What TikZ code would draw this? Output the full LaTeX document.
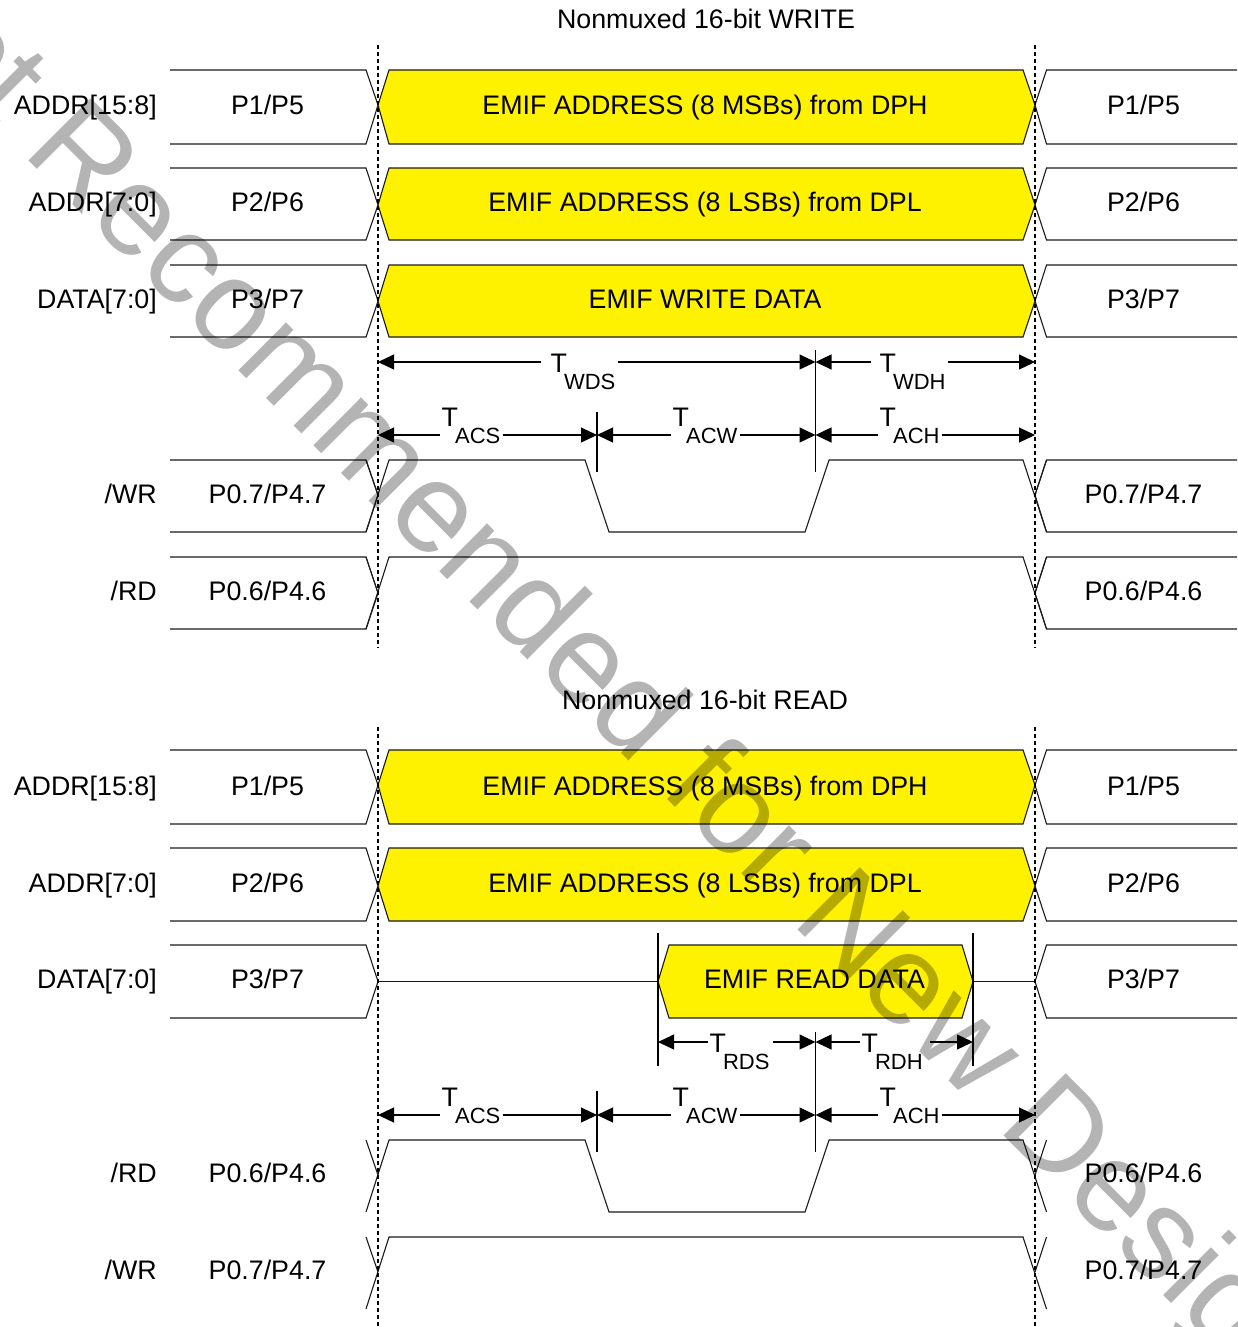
\documentclass[tikz,border=0pt]{standalone}
\usepackage{fontspec}
\setmainfont{Liberation Sans}
\usetikzlibrary{arrows.meta,calc}
\definecolor{wmgray}{HTML}{B4B4B4}
\definecolor{inkc}{HTML}{1A1A1A}
\newcommand{\mainsize}{\fontsize{26.8}{30}\selectfont}
\newcommand{\subsize}{\fontsize{22}{24}\selectfont}
\tikzset{
  x=1pt,y=-1pt,
  wave/.style={draw=inkc,line width=1.1pt,line join=miter},
  busfill/.style={wave,fill=yellow},
  guide/.style={draw=black,line width=1.1pt,dash pattern=on 4pt off 3pt},
  tick/.style={draw=black,line width=1.1pt},
  dimarrow/.style={draw=black,line width=1.1pt,-{Triangle[length=16pt,width=15pt]}},
  siglabel/.style={anchor=base east,inner sep=0pt,font=\mainsize},
  vallabel/.style={anchor=base,inner sep=0pt,font=\mainsize},
  tlabel/.style={anchor=base west,inner sep=0pt,font=\mainsize},
}
% left and right stubs of a row: top, bottom, crossing y
\newcommand{\stubs}[3]{%
  \draw[wave] (170,#1) -- (366,#1) -- (378,#3) -- (366,#2) -- (170,#2);
  \draw[wave] (1237,#1) -- (1046.5,#1) -- (1035,#3) -- (1046.5,#2) -- (1237,#2);
}
% yellow bus: top, bottom, crossing y
\newcommand{\bus}[3]{%
  \draw[busfill] (378,#3) -- (389,#1) -- (1023,#1) -- (1035,#3) -- (1023,#2) -- (389,#2) -- cycle;
}
% strobe pulse, low between the edges
\newcommand{\pulse}[3]{%
  \draw[wave] (366,#2) -- (389,#1) -- (585,#1) -- (609,#2) -- (805,#2) -- (829,#1) -- (1023,#1) -- (1046.5,#2);
  \draw[wave] (366,#1) -- (378,#3);
  \draw[wave] (1046.5,#1) -- (1035,#3);
}
% strobe that stays high
\newcommand{\high}[3]{%
  \draw[wave] (366,#2) -- (389,#1) -- (1023,#1) -- (1046.5,#2);
  \draw[wave] (366,#1) -- (378,#3);
  \draw[wave] (1046.5,#1) -- (1035,#3);
}
% name, x, baseline, subscript, line y, left target, right target, left gap, right gap
\newcommand{\tlab}[9]{%
  \node[tlabel] (#1) at (#2,#3) {T\kern-3pt\raisebox{-17pt}{\subsize #4}};
  \coordinate (#1y) at (0,#5);
  \path ([xshift=-#8pt]#1.base west) coordinate (#1l) ([xshift=#9pt]#1.base east) coordinate (#1r);
  \draw[dimarrow] (#1l|-#1y) -- (#6|-#1y);
  \draw[dimarrow] (#1r|-#1y) -- (#7|-#1y);
}
\begin{document}
\begin{tikzpicture}
\useasboundingbox (0,0) rectangle (1237,1327);
\coordinate (d1) at (378,0);
\coordinate (d2) at (1035,0);
\coordinate (m1) at (597,0);
\coordinate (m2) at (815.5,0);
\coordinate (r1) at (658,0);
\coordinate (r2) at (973,0);

% ---------- WRITE ----------
\node[vallabel] (title1) at (706,29) {Nonmuxed 16-bit WRITE};
\stubs{70}{144}{105}
\bus{70}{144}{105}
\stubs{168}{240}{205}
\bus{168}{240}{205}
\stubs{265}{337}{301}
\bus{265}{337}{301}
\stubs{460}{532}{495}
\stubs{557}{629}{593}
\pulse{460}{532}{495}
\high{557}{629}{593}
\draw[guide] (378,45) -- (378,648);
\draw[guide] (1035,45) -- (1035,648);

\node[siglabel] (wa1) at (157,114) {ADDR[15:8]};
\node[vallabel] (wa1l) at (267.5,114) {P1/P5};
\node[vallabel] (wa1c) at (705,114) {EMIF ADDRESS (8 MSBs) from DPH};
\node[vallabel] (wa1r) at (1143.5,114) {P1/P5};
\node[siglabel] (wa2) at (157,211) {ADDR[7:0]};
\node[vallabel] (wa2l) at (267.5,211) {P2/P6};
\node[vallabel] (wa2c) at (705,211) {EMIF ADDRESS (8 LSBs) from DPL};
\node[vallabel] (wa2r) at (1143.5,211) {P2/P6};
\node[siglabel] (wd) at (157,308) {DATA[7:0]};
\node[vallabel] (wdl) at (267.5,308) {P3/P7};
\node[vallabel] (wdc) at (705,308) {EMIF WRITE DATA};
\node[vallabel] (wdr) at (1143.5,308) {P3/P7};
\node[siglabel] (wwr) at (157,503) {/WR};
\node[vallabel] (wwrl) at (267.5,503) {P0.7/P4.7};
\node[vallabel] (wwrr) at (1143.5,503) {P0.7/P4.7};
\node[siglabel] (wrd) at (157,600) {/RD};
\node[vallabel] (wrdl) at (267.5,600) {P0.6/P4.6};
\node[vallabel] (wrdr) at (1143.5,600) {P0.6/P4.6};

\draw[tick] (597,412) -- (597,472);
\draw[tick] (815.5,350) -- (815.5,472);
\tlab{twds}{550.5}{372}{WDS}{362}{d1}{m2}{10}{2}
\tlab{twdh}{879.5}{372}{WDH}{362}{m2}{d2}{9}{2}
\tlab{tacsa}{441.5}{426}{ACS}{435}{d1}{m1}{2}{2}
\tlab{tacwa}{672.5}{426}{ACW}{435}{m1}{m2}{2}{2}
\tlab{tacha}{879.5}{426}{ACH}{435}{m2}{d2}{2}{2}

% ---------- READ ----------
\node[vallabel] (title2) at (705,709) {Nonmuxed 16-bit READ};
\stubs{750}{824}{785}
\bus{750}{824}{785}
\stubs{848}{921}{886}
\bus{848}{921}{886}
\stubs{945}{1018}{981.5}
\draw[wave] (378,981.5) -- (658,981.5);
\draw[wave] (973,981.5) -- (1035,981.5);
\draw[busfill] (658,981.5) -- (669,945) -- (962,945) -- (973,981.5) -- (962,1018) -- (669,1018) -- cycle;
\pulse{1140}{1212}{1175}
\high{1237}{1309}{1272}
\draw[guide] (378,727) -- (378,1327);
\draw[guide] (1035,727) -- (1035,1327);

\node[siglabel] (ra1) at (157,795) {ADDR[15:8]};
\node[vallabel] (ra1l) at (267.5,795) {P1/P5};
\node[vallabel] (ra1c) at (705,795) {EMIF ADDRESS (8 MSBs) from DPH};
\node[vallabel] (ra1r) at (1143.5,795) {P1/P5};
\node[siglabel] (ra2) at (157,892) {ADDR[7:0]};
\node[vallabel] (ra2l) at (267.5,892) {P2/P6};
\node[vallabel] (ra2c) at (705,892) {EMIF ADDRESS (8 LSBs) from DPL};
\node[vallabel] (ra2r) at (1143.5,892) {P2/P6};
\node[siglabel] (rd) at (157,988) {DATA[7:0]};
\node[vallabel] (rdl) at (267.5,988) {P3/P7};
\node[vallabel] (rdc) at (814.5,988) {EMIF READ DATA};
\node[vallabel] (rdr) at (1143.5,988) {P3/P7};
\node[siglabel] (rrd) at (157,1182) {/RD};
\node[vallabel] (rrdl) at (267.5,1182) {P0.6/P4.6};
\node[vallabel] (rrdr) at (1143.5,1182) {P0.6/P4.6};
\node[siglabel] (rwr) at (157,1279) {/WR};
\node[vallabel] (rwrl) at (267.5,1279) {P0.7/P4.7};
\node[vallabel] (rwrr) at (1143.5,1279) {P0.7/P4.7};

\draw[tick] (658,933) -- (658,1066);
\draw[tick] (973,933) -- (973,1066);
\draw[tick] (597,1091) -- (597,1152);
\draw[tick] (815.5,1032) -- (815.5,1152);
\tlab{trds}{709.5}{1052}{RDS}{1042}{r1}{m2}{2}{3}
\tlab{trdh}{861.5}{1052}{RDH}{1042}{m2}{r2}{2}{7}
\tlab{tacsb}{441.5}{1106}{ACS}{1115}{d1}{m1}{2}{2}
\tlab{tacwb}{672.5}{1106}{ACW}{1115}{m1}{m2}{2}{2}
\tlab{tachb}{879.5}{1106}{ACH}{1115}{m2}{d2}{2}{2}

% ---------- watermark ----------
\begin{scope}[blend mode=multiply]
\clip (0,0) rectangle (1237,1327);
\node[anchor=base west,rotate=-45,inner sep=0pt,text=wmgray,font=\fontsize{128}{130}\selectfont]
  (mark) at (-145,-13) {Not Recommended for New Designs};
\end{scope}
\end{tikzpicture}
\end{document}
